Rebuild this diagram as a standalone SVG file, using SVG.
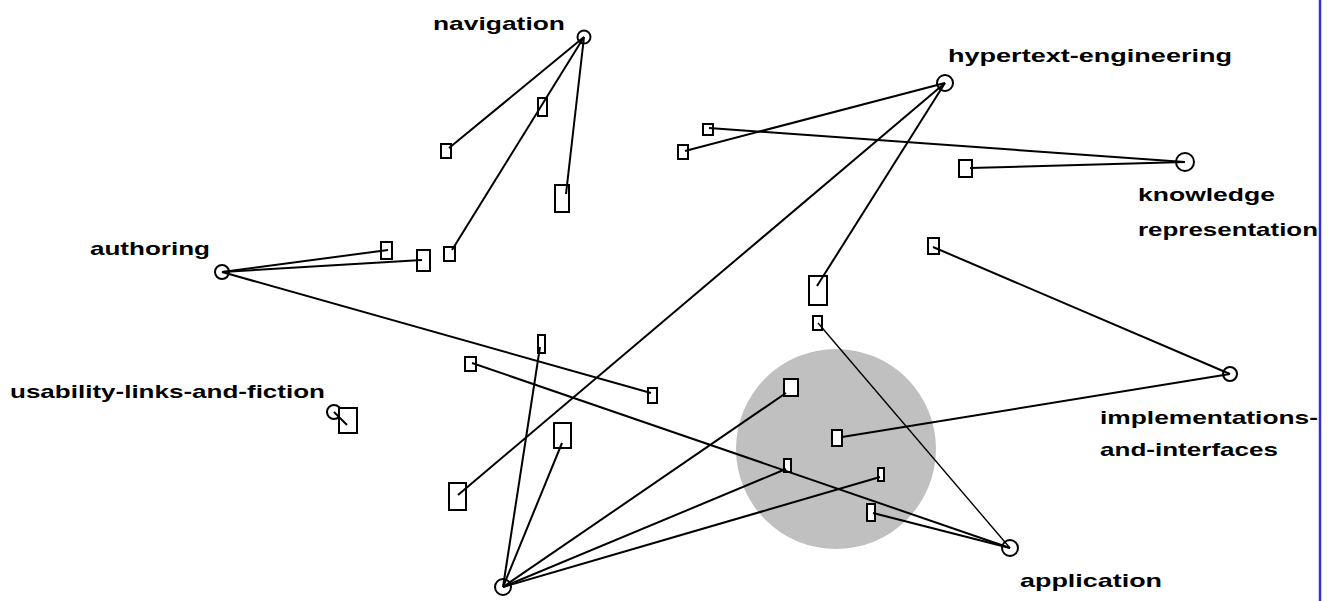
<svg xmlns="http://www.w3.org/2000/svg" width="1329" height="601" viewBox="0 0 1329 601">
<style>
.lbl{font-family:"Liberation Sans",Arial,sans-serif;font-size:19px;font-weight:bold;fill:#000}
.hub{fill:none;stroke:#000;stroke-width:2}
.box{fill:#fff;stroke:#000;stroke-width:2}
.e{stroke:#000;stroke-width:2;fill:none}
.t{stroke:#000;stroke-width:1.4;fill:none}
</style>
<rect x="0" y="0" width="1329" height="601" fill="#fff"/>
<circle id="cluster" cx="836" cy="449" r="100" fill="#c0c0c0"/>
<g id="nodes">
<g id="navigation"><circle class="hub" cx="584" cy="37" r="6.5"/><text class="lbl" transform="translate(433,30) scale(1.25,1)" textLength="105.6" lengthAdjust="spacingAndGlyphs">navigation</text></g>
<g id="hypertext-engineering"><circle class="hub" cx="945" cy="83" r="8"/><text class="lbl" transform="translate(948,62) scale(1.25,1)" textLength="227.2" lengthAdjust="spacingAndGlyphs">hypertext-engineering</text></g>
<g id="knowledge-representation"><circle class="hub" cx="1185" cy="162" r="9"/><text class="lbl" transform="translate(1138,201) scale(1.25,1)" textLength="109.6" lengthAdjust="spacingAndGlyphs">knowledge</text><text class="lbl" transform="translate(1138,236) scale(1.25,1)" textLength="144" lengthAdjust="spacingAndGlyphs">representation</text></g>
<g id="authoring"><circle class="hub" cx="222" cy="272" r="7"/><text class="lbl" transform="translate(90,255) scale(1.25,1)" textLength="96" lengthAdjust="spacingAndGlyphs">authoring</text></g>
<g id="usability-links-and-fiction"><circle class="hub" cx="334" cy="412" r="7"/><text class="lbl" transform="translate(10,398) scale(1.25,1)" textLength="252" lengthAdjust="spacingAndGlyphs">usability-links-and-fiction</text></g>
<g id="implementations-and-interfaces"><circle class="hub" cx="1230" cy="374" r="7"/><text class="lbl" transform="translate(1100,424) scale(1.25,1)" textLength="174.4" lengthAdjust="spacingAndGlyphs">implementations-</text><text class="lbl" transform="translate(1100,456) scale(1.25,1)" textLength="142.4" lengthAdjust="spacingAndGlyphs">and-interfaces</text></g>
<g id="application"><circle class="hub" cx="1010" cy="548" r="8"/><text class="lbl" transform="translate(1020,587) scale(1.25,1)" textLength="113.6" lengthAdjust="spacingAndGlyphs">application</text></g>
<g id="hub-bottom"><circle class="hub" cx="503" cy="587" r="8"/></g>
<g id="b1"><rect class="box" x="441" y="144" width="10" height="14"/></g>
<g id="b2"><rect class="box" x="538" y="98" width="9" height="18"/></g>
<g id="b3"><rect class="box" x="555" y="185" width="14" height="27"/></g>
<g id="b4"><rect class="box" x="444" y="247" width="11" height="14"/></g>
<g id="b5"><rect class="box" x="381" y="242" width="11" height="17"/></g>
<g id="b6"><rect class="box" x="417" y="250" width="13" height="21"/></g>
<g id="b7"><rect class="box" x="703" y="124" width="10" height="11"/></g>
<g id="b8"><rect class="box" x="678" y="145" width="10" height="14"/></g>
<g id="b9"><rect class="box" x="959" y="160" width="13" height="17"/></g>
<g id="b10"><rect class="box" x="809" y="276" width="18" height="29"/></g>
<g id="b11"><rect class="box" x="813" y="316" width="9" height="14"/></g>
<g id="b12"><rect class="box" x="928" y="238" width="11" height="16"/></g>
<g id="b13"><rect class="box" x="538" y="335" width="7" height="18"/></g>
<g id="b14"><rect class="box" x="465" y="357" width="11" height="14"/></g>
<g id="b15"><rect class="box" x="648" y="388" width="9" height="15"/></g>
<g id="b16"><rect class="box" x="554" y="423" width="17" height="25"/></g>
<g id="b17"><rect class="box" x="449" y="483" width="17" height="27"/></g>
<g id="b18"><rect class="box" x="784" y="379" width="14" height="17"/></g>
<g id="b19"><rect class="box" x="832" y="430" width="10" height="16"/></g>
<g id="b20"><rect class="box" x="784" y="459" width="7" height="13"/></g>
<g id="b21"><rect class="box" x="878" y="468" width="6" height="13"/></g>
<g id="b22"><rect class="box" x="867" y="504" width="8" height="17"/></g>
<g id="b23"><rect class="box" x="339" y="408" width="18" height="25"/></g>
</g>
<g id="connectors">
<line class="e" x1="584" y1="37" x2="449" y2="148"/>
<line class="e" x1="584" y1="37" x2="452" y2="250"/>
<line class="e" x1="584" y1="37" x2="566" y2="194"/>
<line class="e" x1="222" y1="272" x2="388" y2="250"/>
<line class="e" x1="222" y1="272" x2="422" y2="260"/>
<line class="e" x1="222" y1="272" x2="651" y2="393"/>
<line class="e" x1="945" y1="83" x2="685" y2="151"/>
<line class="e" x1="945" y1="83" x2="817" y2="286"/>
<line class="e" x1="945" y1="83" x2="458" y2="495"/>
<line class="e" x1="1185" y1="162" x2="709" y2="128"/>
<line class="e" x1="1185" y1="162" x2="970" y2="168"/>
<line class="e" x1="1230" y1="374" x2="933" y2="247"/>
<line class="e" x1="1230" y1="374" x2="842" y2="437"/>
<line class="t" x1="1010" y1="548" x2="818" y2="323"/>
<line class="e" x1="1010" y1="548" x2="472" y2="363"/>
<line class="e" x1="1010" y1="548" x2="873" y2="513"/>
<line class="e" x1="503" y1="587" x2="540" y2="347"/>
<line class="e" x1="503" y1="587" x2="562" y2="443"/>
<line class="e" x1="503" y1="587" x2="786" y2="393"/>
<line class="e" x1="503" y1="587" x2="786" y2="469"/>
<line class="e" x1="503" y1="587" x2="880" y2="477"/>
<line class="e" x1="334" y1="412" x2="347" y2="425"/>
</g>
<line x1="1320" y1="0" x2="1320" y2="601" stroke="#3333cc" stroke-width="2.5"/>
</svg>
